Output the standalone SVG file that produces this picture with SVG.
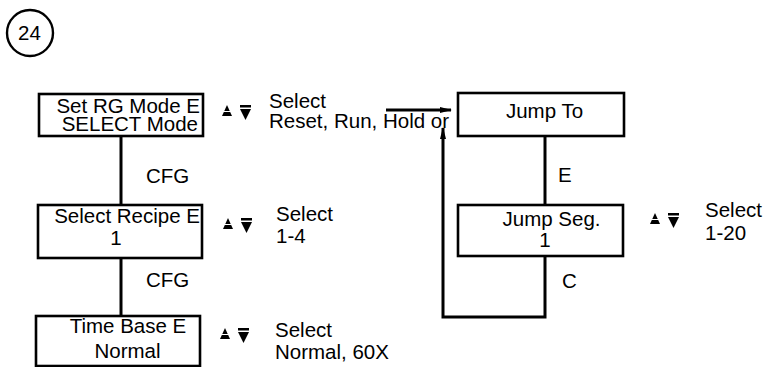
<svg xmlns="http://www.w3.org/2000/svg" xmlns:xlink="http://www.w3.org/1999/xlink" width="765" height="367" viewBox="0 0 765 367">
<style>
  text { font-family: "Liberation Sans", Arial, sans-serif; font-size: 20.5px; fill: #000; }
  .box { fill: #fff; stroke: #000; stroke-width: 2.6; }
  .ln { fill: none; stroke: #000; stroke-width: 3; }
  .mid { text-anchor: middle; }
  .end { text-anchor: end; }
</style>
<defs>
  <marker id="ah" markerWidth="12" markerHeight="8" refX="11" refY="4" orient="auto" markerUnits="userSpaceOnUse">
    <path d="M0,1 L12,4 L0,7 Z" fill="#000"/>
  </marker>
  <g id="updown">
    <polygon points="0,11 10,11 5,0" fill="#000"/>
    <line x1="0" y1="6.5" x2="10" y2="6.5" stroke="#fff" stroke-width="1"/>
    <rect x="18" y="0" width="11" height="2.5" fill="#000"/>
    <polygon points="18,4 29,4 23.5,15" fill="#000"/>
  </g>
</defs>
<rect width="765" height="367" fill="#fff"/>

<g id="badge">
  <circle cx="30" cy="33" r="23" fill="none" stroke="#000" stroke-width="2.4"/>
  <text x="29.5" y="40" class="mid" font-size="19">24</text>
</g>

<g id="connectors">
  <line class="ln" x1="121" y1="136" x2="121" y2="205"/>
  <line class="ln" x1="121" y1="258" x2="121" y2="316"/>
  <line class="ln" x1="545" y1="136" x2="545" y2="205"/>
  <polyline class="ln" points="545,256 545,317 443,317 443,128" marker-end="url(#ah)"/>
  <line class="ln" x1="386" y1="110" x2="451" y2="110" marker-end="url(#ah)"/>
  <text x="146" y="183">CFG</text>
  <text x="146" y="287">CFG</text>
  <text x="558" y="182">E</text>
  <text x="562" y="288">C</text>
</g>

<g id="node-setrg">
  <rect class="box" x="39" y="94" width="164" height="42"/>
  <text x="200" y="112.5" class="end">Set RG Mode E</text>
  <text x="198" y="131" class="end">SELECT Mode</text>
  <use xlink:href="#updown" x="222" y="105"/>
  <text x="269" y="108">Select</text>
  <text x="269" y="128">Reset, Run, Hold or</text>
</g>

<g id="node-recipe">
  <rect class="box" x="38" y="205" width="164" height="53"/>
  <text x="200" y="223" class="end">Select Recipe E</text>
  <text x="116" y="245" class="mid">1</text>
  <use xlink:href="#updown" x="223" y="218"/>
  <text x="276" y="220.5">Select</text>
  <text x="276" y="243">1-4</text>
</g>

<g id="node-timebase">
  <rect class="box" x="36" y="316" width="164" height="50"/>
  <text x="128" y="333" class="mid">Time Base E</text>
  <text x="127.5" y="358" class="mid">Normal</text>
  <use xlink:href="#updown" x="220" y="328"/>
  <text x="275" y="337">Select</text>
  <text x="275" y="359">Normal, 60X</text>
</g>

<g id="node-jumpto">
  <rect class="box" x="458" y="93" width="166" height="43"/>
  <text x="544.5" y="118" class="mid">Jump To</text>
</g>

<g id="node-jumpseg">
  <rect class="box" x="458" y="205" width="165" height="51"/>
  <text x="551.5" y="226" class="mid">Jump Seg.</text>
  <text x="545" y="247" class="mid">1</text>
  <use xlink:href="#updown" x="650" y="213"/>
  <text x="705" y="217">Select</text>
  <text x="705" y="240">1-20</text>
</g>
</svg>
